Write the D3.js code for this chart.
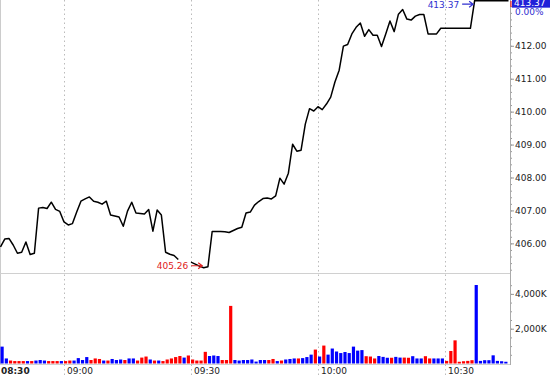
<!DOCTYPE html>
<html>
<head>
<meta charset="utf-8">
<script src="https://cdn.jsdelivr.net/npm/d3@7"></script>
<style>
  body { margin: 0; background: #fff; }
  svg { display: block; font-family: "DejaVu Sans", Verdana, sans-serif; }
</style>
</head>
<body>
<div id="plot"></div>
<script>
// one-minute bars, session window 08:45 -> 10:45
const startTime = "08:45";
const endTime = "10:45";

// close for each minute (null = no trade printed)
const price = [
  405.89, 406.13, 406.15, 405.95, 405.70, 405.73, 406.04, 405.66, 405.70, 407.07,
  407.09, 407.06, 407.25, 407.03, 406.97, 406.65, 406.56, 406.60, 406.95, 407.28,
  407.35, 407.41, 407.28, 407.25, 407.19, 407.28, 406.86, 406.83, 406.80, 406.52,
  406.98, 407.25, 406.92, 406.91, 406.89, 407.03, 406.37, 407.01, 406.86, 405.73,
  405.67, 405.63, 405.51, null, null, 405.43, 405.37, 405.31, 405.26, 405.29,
  406.36, 406.36, 406.36, 406.35, 406.33, 406.39, 406.45, 406.49, 406.92, 406.95,
  407.16, 407.27, 407.36, 407.38, 407.35, 407.44, 407.98, 407.80, 408.13, 409.01,
  408.80, 408.83, 409.62, 410.09, 410.02, 410.15, 410.06, 410.23, 410.44, 410.90,
  411.26, 411.99, 412.04, 412.36, 412.56, 412.69, 412.29, 412.49, 412.32, 412.32,
  411.98, 412.36, 412.75, 412.43, 412.96, 413.10, 412.81, 412.78, 412.90, 412.95,
  412.95, 412.36, 412.36, 412.36, 412.53, 412.53, 412.53, 412.53, 412.53, 412.53,
  412.53, 412.53, 413.37, 413.37, 413.37, 413.37, 413.37, 413.37, 413.37, 413.37,
  413.37
];

// volume per minute, in thousands
const volume = [
  970, 290, 170, 140, 140, 140, 140, 140, 170, 200,
  170, 140, 140, 140, 140, 140, 170, 170, 310, 200,
  370, 200, 290, 260, 170, 170, 260, 200, 230, 200,
  290, 290, 170, 340, 400, 230, 170, 170, 140, 230,
  290, 370, 430, 340, 460, 230, 170, 170, 670, 430,
  460, 430, 200, 200, 3310, 200, 170, 200, 200, 230,
  110, 200, 200, 200, 260, 140, 170, 230, 260, 290,
  290, 310, 370, 510, 800, 400, 1030, 510, 860, 690,
  600, 660, 600, 970, 740, 770, 420, 400, 290, 430,
  380, 330, 330, 380, 340, 340, 330, 420, 290, 290,
  420, 290, 290, 290, 290, 150, 720, 1330, 100, 130,
  150, 190, 4510, 150, 190, 190, 470, 150, 130, 100
];
// b = up tick (blue), r = down tick (red)
const volumeSide = (
  "bbrrrrbrbb" + "brrrbrrbbb" + "brrrbrbbbr" + "bbrrrbrbrr" +
  "rrrbrrrrrb" + "bbrrrbbbbb" + "bbbrrbrbbb" + "rbbbrbrbbb" +
  "bbbbbbrrrb" + "bbrbbrrbbb" + "rrbbbrrrrr" + "rrbbbbbbbb").split("");

const priceTicks = [406, 407, 408, 409, 410, 411, 412];
const volumeTicks = [2000, 4000];
const timeTicks = ["08:30", "09:00", "09:30", "10:00", "10:30"];
const changeLabel = "0.00%";

const width = 550, height = 377;
const plotLeft = 0.5, plotRight = 508.5, axisX = 510;
const priceTop = 0, priceBottom = 273;
const volTop = 273, volBottom = 363.5;

const parse = d3.utcParse("%H:%M");
const t0 = parse(startTime), t1 = parse(endTime);
const times = d3.utcMinute.range(t0, d3.utcMinute.offset(t1, 1));

const x = d3.scaleUtc().domain([t0, t1]).range([plotLeft, plotRight]);
const y = d3.scaleLinear().domain([405.10, 413.39]).range([priceBottom, priceTop]);
const yv = d3.scaleLinear().domain([0, 5200]).range([volBottom, volTop]);

const blue = "#0000ff", red = "#ff0000";

const svg = d3.create("svg")
  .attr("width", width)
  .attr("height", height)
  .attr("viewBox", [0, 0, width, height]);

// frame
svg.append("line").attr("x1", 0.5).attr("x2", 0.5).attr("y1", 0).attr("y2", volBottom + 1)
  .attr("stroke", "#ccc");
svg.append("line").attr("x1", 0).attr("x2", axisX).attr("y1", 273.5).attr("y2", 273.5)
  .attr("stroke", "#d0d0d0");
svg.append("line").attr("x1", 0).attr("x2", axisX).attr("y1", 364.5).attr("y2", 364.5)
  .attr("stroke", "#d0d0d0");

// dotted time gridlines
svg.append("g")
  .selectAll("line")
  .data(timeTicks.slice(1))
  .join("line")
    .attr("x1", d => Math.round(x(parse(d))) + 0.5)
    .attr("x2", d => Math.round(x(parse(d))) + 0.5)
    .attr("y1", 0)
    .attr("y2", 376)
    .attr("stroke", "#bbb")
    .attr("stroke-dasharray", "1.5,3");

// volume bars
svg.append("g")
  .selectAll("rect")
  .data(volume)
  .join("rect")
    .attr("x", (d, i) => x(times[i]))
    .attr("width", 3.2)
    .attr("y", d => yv(d))
    .attr("height", d => yv(0) - yv(d))
    .attr("fill", (d, i) => volumeSide[i] === "b" ? blue : red);

// price line
const line = d3.line()
  .defined(d => d != null)
  .x((d, i) => x(times[i]))
  .y(d => y(d));

svg.append("path")
  .attr("fill", "none")
  .attr("stroke", "#000")
  .attr("stroke-width", 1.5)
  .attr("stroke-linejoin", "round")
  .attr("d", line(price));

// right axes
const priceAxis = svg.append("g")
  .attr("transform", `translate(${axisX},0)`)
  .call(d3.axisRight(y).tickValues(priceTicks).tickFormat(d3.format(".2f")).tickSize(4).tickPadding(1))
  .call(g => g.select(".domain").remove());
svg.append("g")
  .attr("transform", `translate(${axisX},0)`)
  .call(d3.axisRight(y).tickValues(d3.range(405.2, 413.3, 0.2)).tickFormat("").tickSize(2))
  .call(g => g.select(".domain").remove());

svg.append("g")
  .attr("transform", `translate(${axisX},0)`)
  .call(d3.axisRight(yv).tickValues(volumeTicks).tickFormat(d => d3.format(",")(d) + "K").tickSize(4).tickPadding(1))
  .call(g => g.select(".domain").remove());
svg.append("g")
  .attr("transform", `translate(${axisX},0)`)
  .call(d3.axisRight(yv).tickValues(d3.range(500, 5000, 500)).tickFormat("").tickSize(2))
  .call(g => g.select(".domain").remove());

svg.append("line").attr("x1", axisX + 0.5).attr("x2", axisX + 0.5).attr("y1", 0).attr("y2", 365)
  .attr("stroke", "#aaa");

svg.selectAll(".tick line").attr("stroke", "#999");
svg.selectAll(".tick text").attr("fill", "#222").attr("font-size", 9).attr("font-family", "DejaVu Sans, Verdana, sans-serif");

// time labels
svg.append("g")
  .selectAll("text")
  .data(timeTicks)
  .join("text")
    .attr("x", (d, i) => i === 0 ? 1 : Math.round(x(parse(d))) + 3)
    .attr("y", 374)
    .attr("font-size", 9)
    .attr("font-weight", (d, i) => i === 0 ? "bold" : null)
    .attr("fill", "#222")
    .text(d => d);

// last price flag
const last = price[price.length - 1];
svg.append("rect")
  .attr("x", axisX + 2).attr("y", y(last) - 7).attr("width", 40).attr("height", 14)
  .attr("fill", "#2020d8");
svg.append("text")
  .attr("x", axisX + 4).attr("y", y(last) + 5)
  .attr("font-size", 9).attr("fill", "#fff")
  .text(d3.format(".2f")(last));
svg.append("text")
  .attr("x", axisX + 5).attr("y", y(last) + 14.5)
  .attr("font-size", 9).attr("fill", "#3030d0")
  .text(changeLabel);
svg.append("line").attr("x1", axisX + 1).attr("x2", axisX + 1).attr("y1", 1).attr("y2", 7)
  .attr("stroke", red);

// high / low markers
function marker(i, value, color) {
  const tipX = x(times[i]) - 1.5;
  const yy = y(value) + (value === last ? 3.5 : -2);
  svg.append("path")
    .attr("d", `M${tipX - 11},${yy}H${tipX}M${tipX - 4},${yy - 3}L${tipX},${yy}L${tipX - 4},${yy + 3}`)
    .attr("fill", "none").attr("stroke", color).attr("stroke-width", 1.2);
  svg.append("text")
    .attr("x", tipX - 14).attr("y", yy + 3.5)
    .attr("text-anchor", "end")
    .attr("font-size", 9).attr("fill", color)
    .text(d3.format(".2f")(value));
}
const lowVal = d3.min(price), highVal = d3.max(price);
marker(price.indexOf(lowVal), lowVal, "#e02020");
marker(price.indexOf(highVal), highVal, "#3030d0");

d3.select("#plot").append(() => svg.node());
</script>
</body>
</html>
